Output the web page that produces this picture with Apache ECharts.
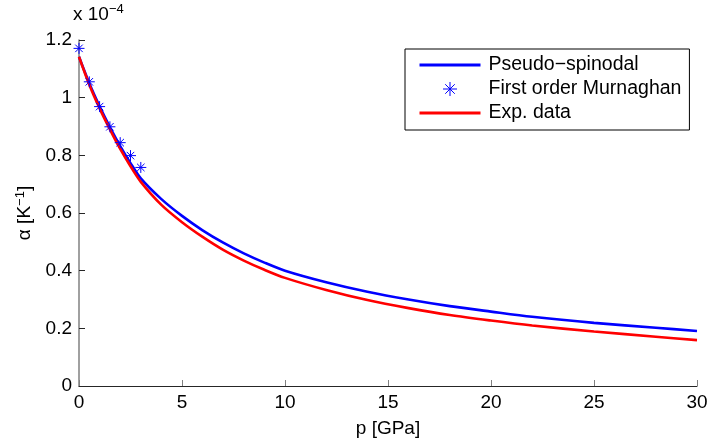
<!DOCTYPE html>
<html><head><meta charset="utf-8">
<script src="https://cdn.jsdelivr.net/npm/echarts@6/dist/echarts.min.js"></script>
<style>html,body{margin:0;padding:0;background:#fff}#c{width:709px;height:439px}</style>
</head><body><div id="c"></div>
<script>
// pressure in GPa, alpha in units of 1e-4 K^-1
const pressure = [0, 0.5, 1, 1.5, 2, 2.5, 3, 4, 5, 6, 7, 8, 9, 10, 12, 14, 16, 18, 20, 22, 25, 28, 30];
const pseudoSpinodal = [1.142, 1.05, 0.970, 0.898, 0.832, 0.773, 0.720, 0.648, 0.590, 0.540, 0.497, 0.460, 0.428, 0.400, 0.360, 0.327, 0.300, 0.277, 0.258, 0.240, 0.219, 0.202, 0.191];
const expData = [1.142, 1.045, 0.963, 0.890, 0.822, 0.762, 0.708, 0.628, 0.568, 0.517, 0.472, 0.435, 0.403, 0.375, 0.333, 0.298, 0.270, 0.246, 0.227, 0.210, 0.189, 0.171, 0.159];
const murnP = [0, 0.5, 1, 1.5, 2, 2.5, 3];
const murnAlpha = [1.171, 1.055, 0.969, 0.899, 0.844, 0.799, 0.758];
const yTicks = [0, 0.2, 0.4, 0.6, 0.8, 1, 1.2];
const xTicks = [0, 5, 10, 15, 20, 25, 30];

const font = 'Liberation Sans, Arial, Helvetica, sans-serif';
const FS = 19;
const star = 'path://M0,5 L10,5 M5,0 L5,10 M1.6,1.6 L8.4,8.4 M8.4,1.6 L1.6,8.4';
const zip = (a, b) => a.map((v, i) => [v, b[i]]);
const hidden = {color: 'rgba(0,0,0,0)', borderColor: 'rgba(0,0,0,0)', borderWidth: 0};

const chart = echarts.init(document.getElementById('c'), null, {renderer: 'canvas'});
chart.setOption({
  animation: false,
  backgroundColor: '#fff',
  textStyle: {fontFamily: font},
  grid: {left: 79, right: 12, top: 40, bottom: 53, containLabel: false, outerBoundsMode: 'none'},
  xAxis: {
    type: 'value', min: 0, max: 30, interval: 5,
    name: 'p [GPa]', nameLocation: 'middle', nameGap: 33,
    nameTextStyle: {fontSize: FS, color: '#000', fontFamily: font},
    axisLine: {show: true, onZero: false, lineStyle: {color: '#262626', width: 1}},
    axisTick: {show: true, inside: true, length: 6, lineStyle: {color: '#808080'}},
    axisLabel: {fontSize: FS, color: '#000', margin: 7, fontFamily: font,
      formatter: v => xTicks.includes(v) ? String(v) : ''},
    splitLine: {show: false}
  },
  yAxis: {
    type: 'value', min: 0, max: 1.2, interval: 0.2,
    name: '{a|α [K}{s|−1}{a|]}', nameLocation: 'middle', nameGap: 43, nameRotate: 90,
    nameTextStyle: {rich: {
      a: {fontSize: FS, color: '#000', fontFamily: font},
      s: {fontSize: 13, color: '#000', fontFamily: font, verticalAlign: 'top', padding: [0, 0, 9, 0]}
    }},
    axisLine: {show: true, onZero: false, lineStyle: {color: '#808080', width: 1.5}},
    axisTick: {show: true, inside: true, length: 6, lineStyle: {color: '#262626'}},
    axisLabel: {fontSize: FS, color: '#000', margin: 7, fontFamily: font,
      formatter: v => { const t = yTicks.find(k => Math.abs(k - v) < 1e-9); return t === undefined ? '' : String(t); }},
    splitLine: {show: false}
  },
  legend: {
    orient: 'vertical', left: 405, top: 49,
    backgroundColor: '#fff', borderColor: '#000', borderWidth: 1,
    padding: [6, 8, 7, 13], itemGap: 4, itemWidth: 61, itemHeight: 14,
    lineStyle: {width: 3},
    textStyle: {fontSize: 19.5, color: '#000', fontFamily: font, padding: [0, 0, 0, 3]},
    data: [
      {name: 'Pseudo−spinodal', itemStyle: hidden},
      {name: 'First order Murnaghan', icon: star, itemStyle: {color: 'none', borderColor: '#0000ff', borderWidth: 1}},
      {name: 'Exp. data', itemStyle: hidden}
    ]
  },
  graphic: [{
    type: 'text', left: 73, top: 3,
    style: {
      text: '{a|x 10}{s|−4}',
      rich: {
        a: {fontSize: FS, fill: '#000', fontFamily: font},
        s: {fontSize: 13, fill: '#000', fontFamily: font, verticalAlign: 'top', padding: [0, 0, 11, 0]}
      }
    }
  }],
  series: [
    {
      name: 'Pseudo−spinodal', type: 'line', data: zip(pressure, pseudoSpinodal),
      smooth: 0.3, showSymbol: false, symbol: 'none',
      lineStyle: {color: '#0000ff', width: 2.6}, itemStyle: {color: '#0000ff'}, z: 2
    },
    {
      name: 'First order Murnaghan', type: 'scatter', data: zip(murnP, murnAlpha),
      symbol: star, symbolSize: 11,
      itemStyle: {color: 'none', borderColor: '#0000ff', borderWidth: 1, opacity: 1}, z: 4
    },
    {
      name: 'Exp. data', type: 'line', data: zip(pressure, expData),
      smooth: 0.3, showSymbol: false, symbol: 'none',
      lineStyle: {color: '#ff0000', width: 2.6}, itemStyle: {color: '#ff0000'}, z: 3
    }
  ]
});
</script></body></html>
